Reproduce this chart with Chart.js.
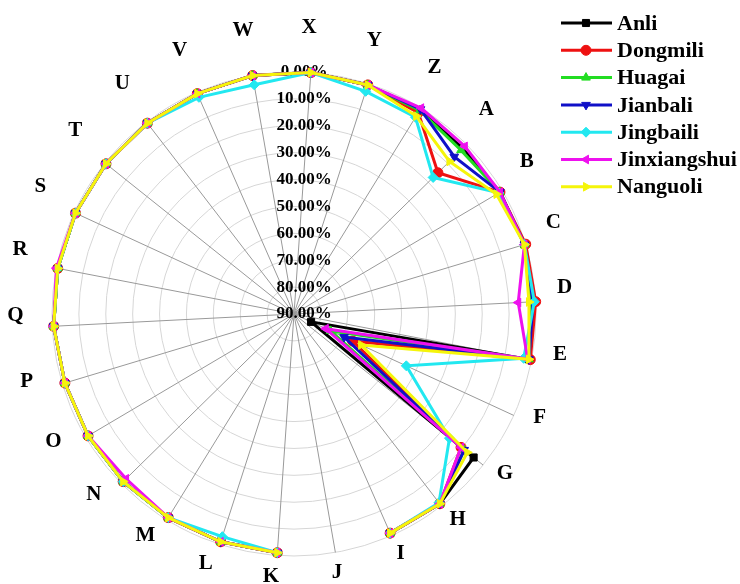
<!DOCTYPE html>
<html>
<head>
<meta charset="utf-8">
<script src="https://cdn.jsdelivr.net/npm/chart.js@4/dist/chart.umd.min.js"></script>
<style>
  html, body { margin: 0; padding: 0; background: #fff; }
  #wrap { position: relative; width: 740px; height: 584px; }
</style>
</head>
<body>
<div id="wrap"><canvas id="radar" width="740" height="584"></canvas></div>
<script>
// categories clockwise, A starts at the upper right
const categories = ['A','B','C','D','E','F','G','H','I','J','K','L','M',
                    'N','O','P','Q','R','S','T','U','V','W','X','Y','Z'];

const tickValues = [0, 10, 20, 30, 40, 50, 60, 70, 80, 90];
const tickLabels = ['0.00%','10.00%','20.00%','30.00%','40.00%','50.00%','60.00%','70.00%','80.00%','90.00%'];

// values in %, J is missing for every sample
const anli         = [2, 1, 0.5, 1, 1, 83, 4.5, 1, 1, null, 1, 1, 1, 1, 1, 1, 0.5, 0.5, 0.5, 0.5, 0.5, 0.5, 0, 0, 0.5, 1];
const dongmili     = [15, 1, 0, 0, 0.5, 66, 10.5, 1, 1, null, 1, 1, 1, 1, 1, 1, 0.5, 0.5, 0.5, 0.5, 0.5, 0.5, 0, 0, 0.5, 2];
const huagai       = [3, 1, 0.5, 1.5, 1, 75, 9, 1, 1, null, 1, 1, 1, 1, 1, 1, 0.5, 0.5, 0.5, 0.5, 0.5, 0.5, 0, 0, 0.5, 1];
const jianbali     = [6.5, 1, 0.5, 1, 1, 69.5, 9, 1, 1, null, 1, 1, 1, 1, 1, 1, 0.5, 0.5, 0.5, 0.5, 0.5, 0.5, 0, 0, 0.5, 0.5];
const jingbaili    = [17.5, 1.5, 0.5, 0.5, 3, 44, 16, 1.5, 1, null, 1, 3, 1, 1, 1, 1, 0.5, 0.5, 0.5, 0.5, 0.5, 2, 3.5, 0, 3, 4];
const jinxiangshui = [1, 1, 0.5, 6.5, 1.5, 77, 10.5, 1, 1, null, 1, 1, 1, 2.5, 1, 1, 0.5, 0, 0.5, 0.5, 0.5, 0.5, 0, 0, 0.5, 0];
const nanguoli     = [9, 2.5, 0.5, 2.5, 1, 62.5, 7.5, 1, 1, null, 1, 1, 1, 1, 1, 1, 0.5, 0.5, 0.5, 0.5, 0.5, 0.5, 0, 0, 0.5, 3.5];

const seriesNames = ['Anli','Dongmili','Huagai','Jianbali','Jingbaili','Jinxiangshui','Nanguoli'];
const seriesData = [anli, dongmili, huagai, jianbali, jingbaili, jinxiangshui, nanguoli];
const colors = ['#000000','#ee1111','#22dd22','#1010c8','#22e8f0','#ee11ee','#f5f50a'];
const markers = [
  { style: 'rect', rot: 0 },
  { style: 'circle', rot: 0 },
  { style: 'triangle', rot: 0 },
  { style: 'triangle', rot: 180 },
  { style: 'rectRot', rot: 0 },
  { style: 'triangle', rot: -90 },
  { style: 'triangle', rot: 90 }
];

const SERIF = '"Liberation Serif", "Times New Roman", serif';

const datasets = seriesNames.map((name, i) => ({
  label: name,
  data: seriesData[i],
  borderColor: colors[i],
  backgroundColor: colors[i],
  pointBackgroundColor: colors[i],
  pointBorderColor: colors[i],
  pointStyle: markers[i].style,
  pointRotation: markers[i].rot,
  pointRadius: 5,
  pointBorderWidth: 1,
  borderWidth: 3,
  fill: false,
  tension: 0,
  order: seriesNames.length - i   // last series ends up on top
}));

// tick labels up the middle, category letters round the rim
const radarText = {
  id: 'radarText',
  beforeDatasetsDraw(chart) {
    const r = chart.scales.r;
    const ctx = chart.ctx;
    ctx.save();
    ctx.font = 'bold 17px ' + SERIF;
    ctx.fillStyle = '#000';
    ctx.textAlign = 'center';
    ctx.textBaseline = 'middle';
    tickValues.forEach((v, i) => {
      const d = r.getDistanceFromCenterForValue(v);
      ctx.fillText(tickLabels[i], r.xCenter + 10, r.yCenter - d);
    });
    ctx.font = 'bold 21px ' + SERIF;
    categories.forEach((c, i) => {
      const p = r.getPointPosition(i, r.drawingArea + 33);
      ctx.fillText(c, p.x - 4, p.y - 12);
    });
    ctx.restore();
  },
  afterDraw(chart) {
    const ctx = chart.ctx;
    ctx.save();
    ctx.font = 'bold 22px ' + SERIF;
    ctx.textAlign = 'left';
    ctx.textBaseline = 'middle';
    seriesNames.forEach((name, i) => {
      const y = 23 + i * 27.3;
      ctx.strokeStyle = colors[i];
      ctx.fillStyle = colors[i];
      ctx.lineWidth = 3;
      ctx.beginPath();
      ctx.moveTo(561, y);
      ctx.lineTo(612, y);
      ctx.stroke();
      ctx.lineWidth = 1;
      Chart.helpers.drawPoint(ctx, {
        pointStyle: markers[i].style,
        rotation: markers[i].rot,
        radius: 5,
        borderWidth: 1
      }, 586, y);
      ctx.fillStyle = '#000';
      ctx.fillText(name, 617, y + 1);
    });
    ctx.restore();
  }
};

new Chart(document.getElementById('radar'), {
  type: 'radar',
  data: { labels: categories, datasets: datasets },
  options: {
    responsive: false,
    animation: false,
    layout: { padding: { left: 52, right: 204, top: 72, bottom: 28 } },
    plugins: { legend: { display: false }, tooltip: { enabled: false } },
    elements: { line: { spanGaps: false } },
    scales: {
      r: {
        min: 0,
        max: 90,
        reverse: true,
        startAngle: 45.54,
        ticks: { display: false, stepSize: 10 },
        grid: { circular: true, color: '#d6d6d6', lineWidth: 1 },
        angleLines: { color: '#999999', lineWidth: 1 },
        pointLabels: { display: false }
      }
    }
  },
  plugins: [radarText]
});
</script>
</body>
</html>
